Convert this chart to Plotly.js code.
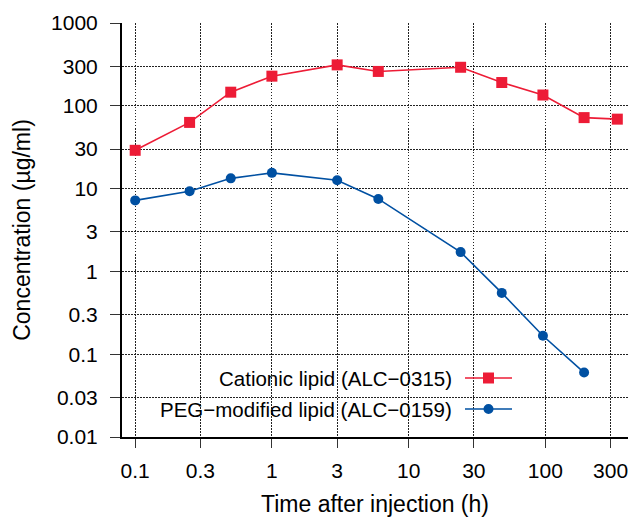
<!DOCTYPE html>
<html>
<head>
<meta charset="utf-8">
<script src="https://cdn.plot.ly/plotly-3.0.1.min.js"></script>
<style>html,body{margin:0;padding:0;background:#fff;}#chart{width:634px;height:517px;}</style>
</head>
<body>
<div id="chart"></div>
<script>
// Data
const timeHours = [0.1, 0.25, 0.5, 1, 3, 6, 24, 48, 96, 192, 336];
const cationicLipid = [29, 63, 146, 228, 312, 260, 292, 191, 135, 72, 69];
const pegTime = [0.1, 0.25, 0.5, 1, 3, 6, 24, 48, 96, 192];
const pegLipid = [7.2, 9.3, 13.3, 15.5, 12.6, 7.5, 1.71, 0.55, 0.167, 0.06];
const seriesNames = ["Cationic lipid (ALC\u22120315)", "PEG\u2212modified lipid (ALC\u22120159)"];
const xTickVals = [0.1, 0.3, 1, 3, 10, 30, 100, 300];
const xTickText = ["0.1", "0.3", "1", "3", "10", "30", "100", "300"];
const yTickVals = [0.01, 0.03, 0.1, 0.3, 1, 3, 10, 30, 100, 300, 1000];
const yTickText = ["0.01", "0.03", "0.1", "0.3", "1", "3", "10", "30", "100", "300", "1000"];

const RED = "#ED1C36", BLUE = "#0050A2";
const W = 634, H = 517, ML = 122, MR = 6, MT = 23, MB = 80;
const PW = W - ML - MR, PH = H - MT - MB;
const px = x => (x - ML) / PW;
const py = y => (H - MB - y) / PH;
const FONT = "Liberation Sans, Arial, sans-serif";

const traces = [
  {x: timeHours, y: cationicLipid, name: seriesNames[0], type: "scatter", mode: "lines+markers",
   line: {color: RED, width: 1.6}, marker: {symbol: "square", size: 11, color: RED}},
  {x: pegTime, y: pegLipid, name: seriesNames[1], type: "scatter", mode: "lines+markers",
   line: {color: BLUE, width: 1.6}, marker: {symbol: "circle", size: 10, color: BLUE}}
];

// manual legend (symbols to the right of the text)
const legRows = [378, 409];
const legColors = [RED, BLUE];
const shapes = [
  {type: "rect", layer: "between", xref: "paper", yref: "paper",
   x0: px(155), x1: px(521), y0: py(436), y1: py(356), fillcolor: "#fff", line: {width: 0}}
];
const annotations = [];
legRows.forEach((ry, i) => {
  shapes.push({type: "line", layer: "above", xref: "paper", yref: "paper",
    x0: px(465), x1: px(512), y0: py(ry), y1: py(ry), line: {color: legColors[i], width: 1.6}});
  const r = i === 0 ? 5.5 : 5;
  shapes.push({type: i === 0 ? "rect" : "circle", layer: "above", xref: "paper", yref: "paper",
    x0: px(488.5 - r), x1: px(488.5 + r), y0: py(ry + r), y1: py(ry - r),
    fillcolor: legColors[i], line: {width: 0}});
  annotations.push({xref: "paper", yref: "paper", x: px(454), y: py(ry), xanchor: "right", yanchor: "middle",
    text: seriesNames[i], showarrow: false, font: {family: FONT, size: 20.5, color: "#000"}});
});

const axisCommon = {
  type: "log", showline: true, linecolor: "#000", linewidth: 2, mirror: false,
  ticks: "outside", tickcolor: "#333", tickwidth: 1,
  showgrid: true, gridcolor: "#222", gridwidth: 1, griddash: "1.5px,1.5px",
  tickfont: {family: FONT, size: 21, color: "#000"}, zeroline: false
};

const layout = {
  width: W, height: H, margin: {l: ML, r: MR, t: MT, b: MB},
  paper_bgcolor: "#fff", plot_bgcolor: "#fff", showlegend: false,
  font: {family: FONT, color: "#000"},
  xaxis: Object.assign({}, axisCommon, {
    range: [-1.0965, 2.6045], tickmode: "array", tickvals: xTickVals, ticktext: xTickText,
    ticklen: 9, ticklabelstandoff: 5,
    title: {text: "Time after injection (h)", font: {family: FONT, size: 23, color: "#000"}, standoff: 16}
  }),
  yaxis: Object.assign({}, axisCommon, {
    range: [-2, 3], tickmode: "array", tickvals: yTickVals, ticktext: yTickText,
    ticklen: 10, ticklabelstandoff: 8,
    title: {text: "Concentration (\u00b5g/ml)", font: {family: FONT, size: 23, color: "#000"}, standoff: 14}
  }),
  shapes: shapes, annotations: annotations
};

Plotly.newPlot("chart", traces, layout, {staticPlot: true, displayModeBar: false});
</script>
</body>
</html>
